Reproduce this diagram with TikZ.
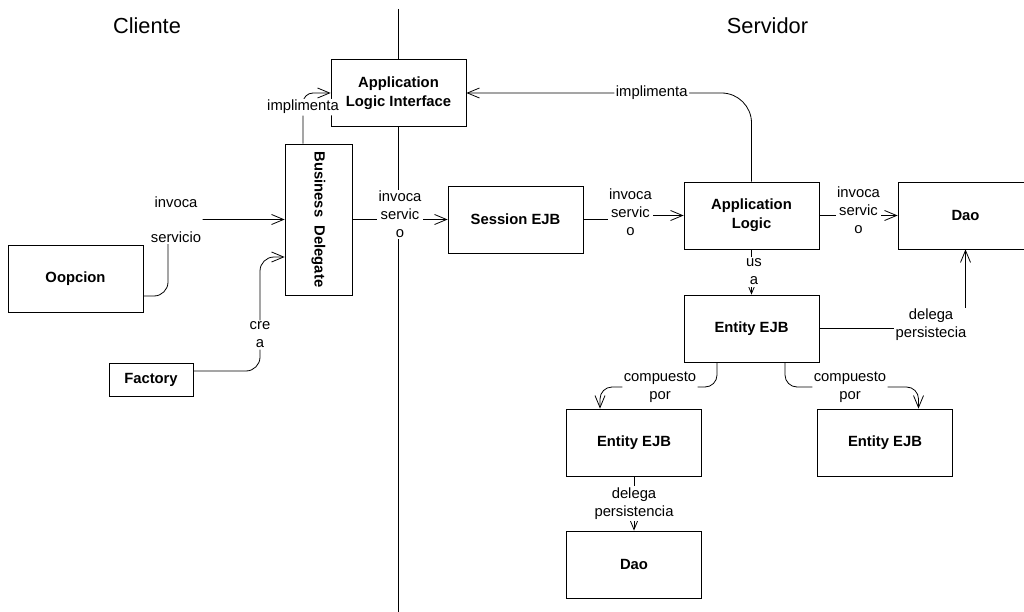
\documentclass[tikz,border=0pt]{standalone}
\usepackage{fontspec}
\setmainfont{Liberation Sans}
\usetikzlibrary{arrows.meta}
\tikzstyle{block} = [draw, fill=white, align=center, font=\fontsize{14.8}{19}\selectfont\bfseries, minimum width=135pt, minimum height=67pt, inner sep=0pt]
\tikzstyle{lbl} = [fill=white, align=center, inner sep=1.5pt, font=\fontsize{14.8}{18}\selectfont]
\tikzstyle{sidename} = [font=\fontsize{21.8}{24}\selectfont]

\begin{document}
\begin{tikzpicture}[x=1pt,y=-1pt,line width=0.8pt,>={Straight Barb[length=12pt,width=10pt]}]
  \path[use as bounding box,clip] (0,0) rectangle (1024,612);
  \draw (398,9) -- (398,612);
  \node[sidename] (client) at (147,26) {Cliente};
  \node[sidename] (server) at (767.5,26) {Servidor};

  \node[block] (ali) at (398.5,93) {Application\\Logic Interface};
  \node[block,minimum width=67pt,minimum height=151pt] (delegate) at (318.5,219.5) {\rotatebox{-90}{Business\ \ Delegate}};
  \node[block] (oopcion) at (75.5,278.5) {Oopcion};
  \node[block,minimum width=84pt,minimum height=33pt] (factory) at (151,379.5) {Factory};
  \node[block] (session) at (515.5,219.5) {Session EJB};
  \node[block,right of=session,node distance=236pt,yshift=4pt] (applogic) {Application\\Logic};
  \node[block,right of=applogic,node distance=214pt] (dao) {Dao};
  \node[block,below of=applogic,node distance=113pt] (entity) {Entity EJB};
  \node[block,below of=entity,node distance=114pt,xshift=-117.5pt] (entityL) {Entity EJB};
  \node[block,below of=entity,node distance=114pt,xshift=133.5pt] (entityR) {Entity EJB};
  \node[block,below of=entityL,node distance=122pt] (daoB) {Dao};

  \coordinate (srvbend) at (168,219.5);
  \coordinate (crebend) at (260,257);
  \coordinate (cmpL) at (660,387);
  \coordinate (cmpR) at (850,387);

  % cliente side
  \draw[->,rounded corners=14pt] ([yshift=-17.5pt]oopcion.east) -| node[lbl,pos=1,xshift=8pt] {invoca\\[17pt]servicio} (srvbend) -- (delegate.west);
  \draw[->,rounded corners=14pt] ([yshift=8.5pt]factory.east) -| node[lbl,pos=0.658] {cre\\a} (crebend) -- ([yshift=-37.5pt]delegate.west);
  \draw[->,rounded corners=10pt] ([xshift=-15.5pt]delegate.north) |- node[lbl,pos=0.36] {implimenta} (ali.west);
  \draw[->] (delegate) -- node[lbl,yshift=5pt] {invoca\\servic\\o} (session);

  % servidor side
  \draw[->] (session.east) -- ++(47,0) |- node[lbl,pos=0,yshift=7pt] {invoca\\servic\\o} (applogic.west);
  \draw[->] (applogic) -- node[lbl,yshift=5pt] {invoca\\servic\\o} (dao);
  \draw[->,rounded corners=30pt] (applogic.north) |- node[lbl,pos=0.675] {implimenta} (ali.east);
  \draw[->] (applogic) -- node[lbl,xshift=2.5pt] {us\\a} (entity);
  \draw[->] (entity.east) -| node[lbl,pos=0.5,xshift=-34.5pt,yshift=3.5pt] {delega\\persistecia} (dao.south);
  \draw[->,rounded corners=12pt] ([xshift=-34.5pt]entity.south) |- (cmpL) -| node[lbl,pos=0] {compuesto\\por} ([xshift=-34pt]entityL.north);
  \draw[->,rounded corners=12pt] ([xshift=33.5pt]entity.south) |- (cmpR) -| node[lbl,pos=0] {compuesto\\por} ([xshift=33.5pt]entityR.north);
  \draw[->] (entityL) -- node[lbl] {delega\\persistencia} (daoB);
\end{tikzpicture}
\end{document}
